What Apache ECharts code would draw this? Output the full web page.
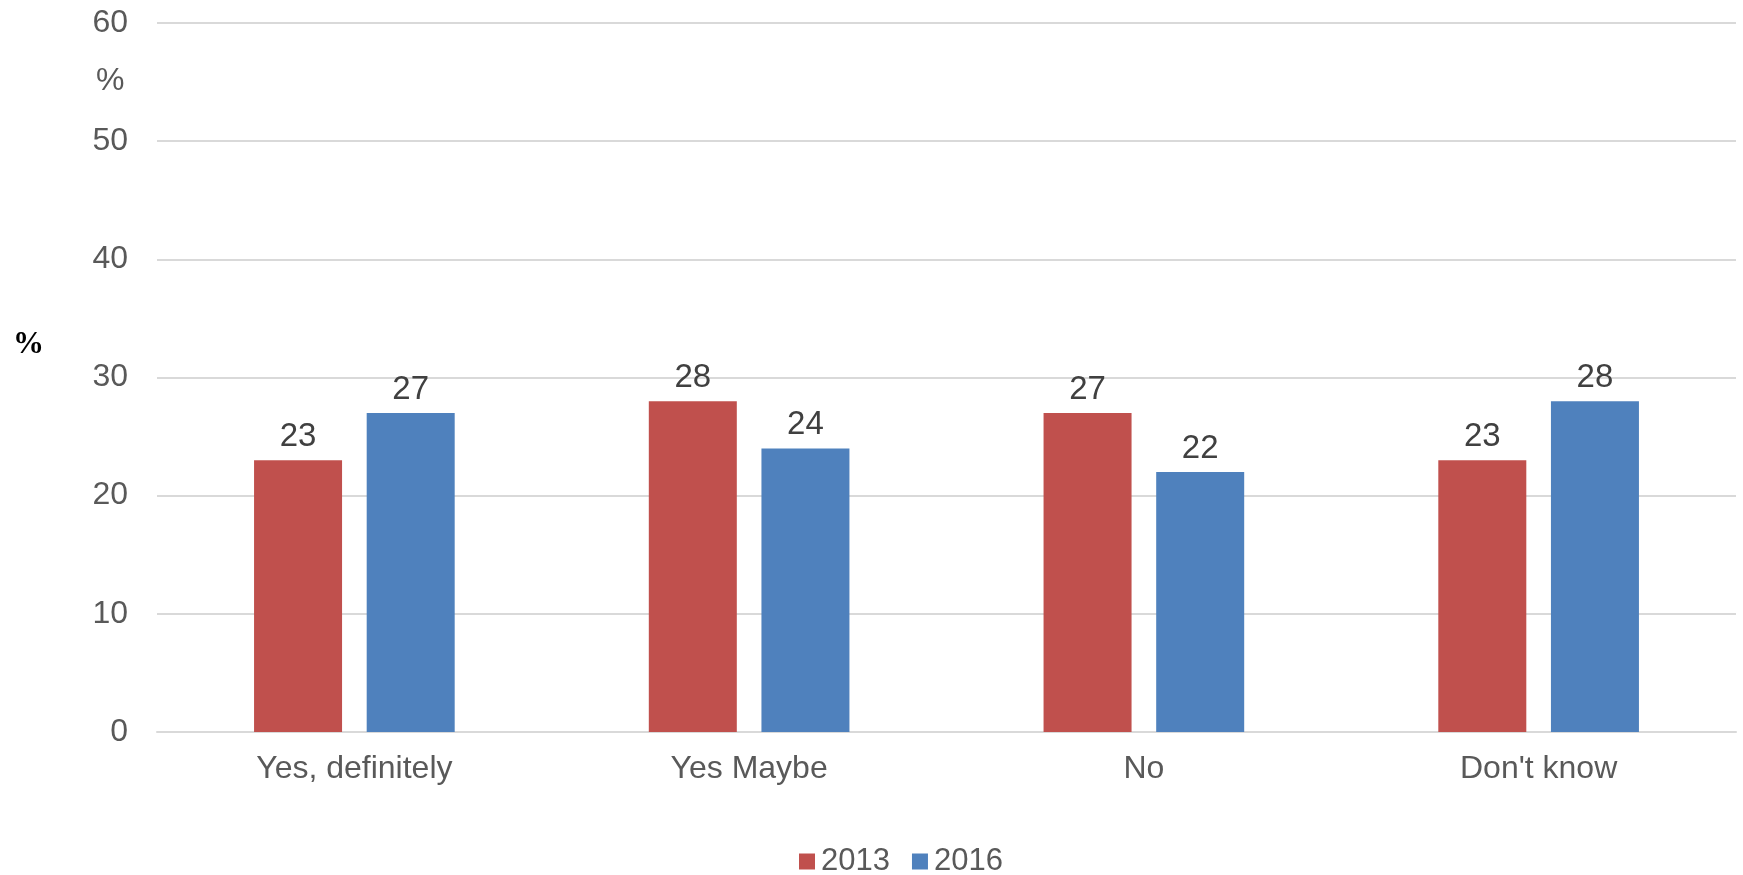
<!DOCTYPE html>
<html><head><meta charset="utf-8">
<script src="https://cdn.jsdelivr.net/npm/echarts@6/dist/echarts.min.js"></script>
<style>html,body{margin:0;padding:0;background:#fff}#c{width:1743px;height:875px}</style>
</head><body><div id="c"></div>
<script>
const categories = ["Yes, definitely", "Yes Maybe", "No", "Don't know"];
const years = ["2013", "2016"];
const values2013 = [23, 28, 27, 23];
const values2016 = [27, 24, 22, 28];
const yTicks = [0, 10, 20, 30, 40, 50, 60];

const font = "Liberation Sans, Arial, sans-serif";
const chart = echarts.init(document.getElementById('c'));
chart.setOption({
  animation: false,
  backgroundColor: '#fff',
  grid: {left: 157, right: 7, top: 23, bottom: 143, containLabel: false},
  legend: {
    data: years, left: 794, top: 841, itemWidth: 16, itemHeight: 16, itemGap: 22,
    icon: 'rect',
    textStyle: {fontFamily: font, fontSize: 31, color: '#595959', padding: [0,0,0,1]}
  },
  xAxis: {
    type: 'category', data: categories,
    axisLine: {lineStyle: {color: '#D9D9D9', width: 2}},
    axisTick: {show: false},
    axisLabel: {fontFamily: font, fontSize: 32, color: '#595959', margin: 21}
  },
  yAxis: {
    type: 'value', min: yTicks[0], max: yTicks[yTicks.length-1], interval: 10,
    axisLine: {show: false}, axisTick: {show: false},
    splitLine: {lineStyle: {color: '#D9D9D9', width: 2}},
    axisLabel: {fontFamily: font, fontSize: 32, color: '#595959', margin: 29}
  },
  graphic: [
    {type: 'text', left: 96, top: 65, style: {text: '%', font: '32px ' + font, fill: '#595959'}},
    {type: 'text', left: 13, top: 329, style: {text: '%', font: 'bold 31px "Liberation Serif", "Times New Roman", serif', fill: '#000'}}
  ],
  series: [
    {name: years[0], type: 'bar', data: values2013, barWidth: 88, barGap: '28%',
     itemStyle: {color: '#C0504D'},
     label: {show: true, position: 'top', distance: 7, fontFamily: font, fontSize: 33, color: '#404040'}},
    {name: years[1], type: 'bar', data: values2016, barWidth: 88,
     itemStyle: {color: '#4F81BD'},
     label: {show: true, position: 'top', distance: 7, fontFamily: font, fontSize: 33, color: '#404040'}}
  ]
});
</script></body></html>
